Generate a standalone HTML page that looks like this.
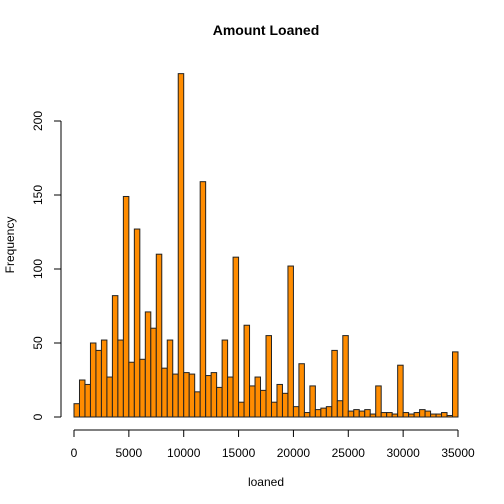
<!DOCTYPE html>
<html><head><meta charset="utf-8"><style>body{margin:0;background:#fff}svg{display:block;font-family:"Liberation Sans",Arial,sans-serif}</style></head>
<body>
<svg id="chart" width="504" height="504">
<text x="266" y="35" text-anchor="middle" font-weight="bold" font-size="14">Amount Loaned</text>
<text x="266" y="486" text-anchor="middle" font-size="12">loaned</text>
<text transform="translate(14,245) rotate(-90)" text-anchor="middle" font-size="12">Frequency</text>
<g id="bars"></g>
<g id="axes"></g>
</svg>
<script>
const binWidth = 500;
const counts = [9,25,22,50,45,52,27,82,52,149,37,127,39,71,60,110,33,52,29,232,30,29,17,159,28,30,20,52,27,108,10,62,21,27,18,55,10,22,16,102,7,36,3,21,5,6,7,45,11,55,4,5,4,5,2,21,3,3,2,35,3,2,3,5,4,2,2,3,1,44];
const xTicks = [0,5000,10000,15000,20000,25000,30000,35000];
const yTicks = [0,50,100,150,200];
const NS="http://www.w3.org/2000/svg";
const xs=v=>74+v*(384/35000);
const ys=v=>417-v*1.48;
const bars=document.getElementById('bars'), axes=document.getElementById('axes');
function mk(tag,attrs,parent){const e=document.createElementNS(NS,tag);for(const k in attrs)e.setAttribute(k,attrs[k]);parent.appendChild(e);return e;}
counts.forEach((c,i)=>{
  const r=mk('rect',{x:xs(i*binWidth),y:ys(c),width:xs((i+1)*binWidth)-xs(i*binWidth),height:ys(0)-ys(c),fill:'#ff8c00',stroke:'#222','stroke-width':1},bars);
  
  
});
mk('line',{x1:xs(0),x2:xs(35000),y1:430,y2:430,stroke:'#000'},axes);
xTicks.forEach(t=>{
  mk('line',{x1:xs(t),x2:xs(t),y1:430,y2:437,stroke:'#000'},axes);
  const tx=mk('text',{x:xs(t),y:457,'text-anchor':'middle','font-size':12},axes);tx.textContent=t;
  
  
});
mk('line',{x1:61,x2:61,y1:ys(0),y2:ys(200),stroke:'#000'},axes);
yTicks.forEach(t=>{
  mk('line',{x1:54,x2:61,y1:ys(t),y2:ys(t),stroke:'#000'},axes);
  const tx=mk('text',{transform:`translate(42,${ys(t)}) rotate(-90)`,'text-anchor':'middle','font-size':12},axes);tx.textContent=t;
  
  
});
</script>
</body></html>
